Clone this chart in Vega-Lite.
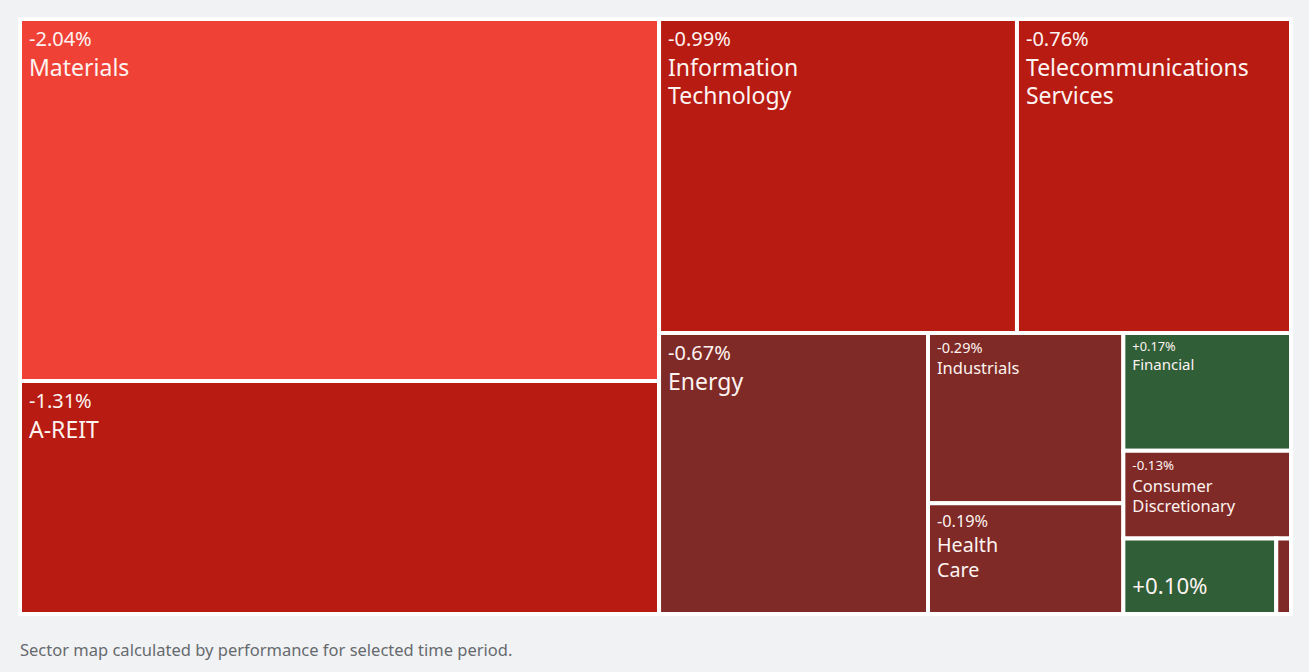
{
  "$schema": "https://vega.github.io/schema/vega-lite/v6.json",
  "width": 1271,
  "height": 595,
  "autosize": {"type": "none"},
  "padding": {"left": 20, "top": 19, "right": 18, "bottom": 58},
  "background": "#f1f2f4",
  "title": {
    "text": "Sector map calculated by performance for selected time period.",
    "orient": "bottom",
    "anchor": "start",
    "offset": 27,
    "dx": 2,
    "font": "Noto Sans",
    "fontSize": 16.5,
    "fontWeight": "normal",
    "color": "#666a6e"
  },
  "config": {
    "view": {"fill": "white", "stroke": null},
    "locale": {"number": {"decimal": ".", "thousands": ",", "grouping": [3], "currency": ["$", ""], "minus": "-"}}
  },
  "data": {
    "values": [
      {"sector": "Materials", "name": "Materials", "change": -0.0204, "x0": 0, "x1": 0.5028, "y0": 0, "y1": 0.6084},
      {"sector": "A-REIT", "name": "A-REIT", "change": -0.0131, "x0": 0, "x1": 0.5028, "y0": 0.6084, "y1": 1},
      {"sector": "Information Technology", "name": "Information\nTechnology", "change": -0.0099, "x0": 0.5028, "x1": 0.7844, "y0": 0, "y1": 0.5277},
      {"sector": "Telecommunications Services", "name": "Telecommunications\nServices", "change": -0.0076, "x0": 0.7844, "x1": 1, "y0": 0, "y1": 0.5277},
      {"sector": "Energy", "name": "Energy", "change": -0.0067, "x0": 0.5028, "x1": 0.7144, "y0": 0.5277, "y1": 1},
      {"sector": "Industrials", "name": "Industrials", "change": -0.0029, "x0": 0.7144, "x1": 0.8681, "y0": 0.5277, "y1": 0.8138},
      {"sector": "Health Care", "name": "Health\nCare", "change": -0.0019, "x0": 0.7144, "x1": 0.8681, "y0": 0.8138, "y1": 1},
      {"sector": "Financial", "name": "Financial", "change": 0.0017, "x0": 0.8681, "x1": 1, "y0": 0.5277, "y1": 0.7257},
      {"sector": "Consumer Discretionary", "name": "Consumer\nDiscretionary", "change": -0.0013, "x0": 0.8681, "x1": 1, "y0": 0.7257, "y1": 0.8731},
      {"sector": "Consumer Staples", "name": "Consumer Staples", "change": 0.0010, "x0": 0.8681, "x1": 0.9884, "y0": 0.8731, "y1": 1},
      {"sector": "Utilities", "name": "Utilities", "change": -0.0005, "x0": 0.9884, "x1": 1, "y0": 0.8731, "y1": 1}
    ]
  },
  "encoding": {
    "x": {"field": "x0", "type": "quantitative", "scale": {"domain": [0, 1], "nice": false, "zero": false}, "axis": null},
    "y": {"field": "y0", "type": "quantitative", "scale": {"domain": [0, 1], "nice": false, "zero": false, "reverse": true}, "axis": null}
  },
  "layer": [
    {
      "mark": {"type": "rect", "stroke": "white", "strokeWidth": 4},
      "encoding": {
        "x2": {"field": "x1"},
        "y2": {"field": "y1"},
        "color": {
          "field": "change",
          "type": "quantitative",
          "scale": {"type": "threshold", "domain": [-0.015, -0.007, 0], "range": ["#ef4136", "#b71b12", "#7f2a26", "#2f5e37"]},
          "legend": null
        }
      }
    },
    {
      "transform": [{"filter": {"field": "sector", "oneOf": ["Materials", "A-REIT", "Information Technology", "Telecommunications Services", "Energy"]}}],
      "layer": [
        {"mark": {"type": "text", "align": "left", "baseline": "alphabetic", "dx": 9, "dy": 27, "font": "Noto Sans", "fontSize": 20, "color": "#fdf3f1"},
         "encoding": {"text": {"field": "change", "type": "quantitative", "format": "+.2%"}}},
        {"mark": {"type": "text", "align": "left", "baseline": "alphabetic", "dx": 9, "dy": 57, "font": "Noto Sans", "fontSize": 23, "lineHeight": 28, "lineBreak": "\n", "color": "#fdf3f1"},
         "encoding": {"text": {"field": "name", "type": "nominal"}}}
      ]
    },
    {
      "transform": [{"filter": {"field": "sector", "equal": "Health Care"}}],
      "layer": [
        {"mark": {"type": "text", "align": "left", "baseline": "alphabetic", "dx": 9, "dy": 23.5, "font": "Noto Sans", "fontSize": 16.3, "color": "#fdf3f1"},
         "encoding": {"text": {"field": "change", "type": "quantitative", "format": "+.2%"}}},
        {"mark": {"type": "text", "align": "left", "baseline": "alphabetic", "dx": 9, "dy": 48.5, "font": "Noto Sans", "fontSize": 19.7, "lineHeight": 25, "lineBreak": "\n", "color": "#fdf3f1"},
         "encoding": {"text": {"field": "name", "type": "nominal"}}}
      ]
    },
    {
      "transform": [{"filter": {"field": "sector", "equal": "Industrials"}}],
      "layer": [
        {"mark": {"type": "text", "align": "left", "baseline": "alphabetic", "dx": 9, "dy": 20, "font": "Noto Sans", "fontSize": 14.5, "color": "#fdf3f1"},
         "encoding": {"text": {"field": "change", "type": "quantitative", "format": "+.2%"}}},
        {"mark": {"type": "text", "align": "left", "baseline": "alphabetic", "dx": 9, "dy": 41, "font": "Noto Sans", "fontSize": 16.5, "lineHeight": 20.5, "lineBreak": "\n", "color": "#fdf3f1"},
         "encoding": {"text": {"field": "name", "type": "nominal"}}}
      ]
    },
    {
      "transform": [{"filter": {"field": "sector", "equal": "Consumer Discretionary"}}],
      "layer": [
        {"mark": {"type": "text", "align": "left", "baseline": "alphabetic", "dx": 9, "dy": 19.5, "font": "Noto Sans", "fontSize": 13.3, "color": "#fdf3f1"},
         "encoding": {"text": {"field": "change", "type": "quantitative", "format": "+.2%"}}},
        {"mark": {"type": "text", "align": "left", "baseline": "alphabetic", "dx": 9, "dy": 41, "font": "Noto Sans", "fontSize": 16.5, "lineHeight": 20.5, "lineBreak": "\n", "color": "#fdf3f1"},
         "encoding": {"text": {"field": "name", "type": "nominal"}}}
      ]
    },
    {
      "transform": [{"filter": {"field": "sector", "equal": "Financial"}}],
      "layer": [
        {"mark": {"type": "text", "align": "left", "baseline": "alphabetic", "dx": 9, "dy": 18.5, "font": "Noto Sans", "fontSize": 12.8, "color": "#fdf3f1"},
         "encoding": {"text": {"field": "change", "type": "quantitative", "format": "+.2%"}}},
        {"mark": {"type": "text", "align": "left", "baseline": "alphabetic", "dx": 9, "dy": 37.5, "font": "Noto Sans", "fontSize": 15, "color": "#fdf3f1"},
         "encoding": {"text": {"field": "name", "type": "nominal"}}}
      ]
    },
    {
      "transform": [{"filter": {"field": "sector", "equal": "Consumer Staples"}}],
      "mark": {"type": "text", "align": "left", "baseline": "alphabetic", "dx": 9, "dy": 56, "font": "Noto Sans", "fontSize": 22.2, "color": "#fdf3f1"},
      "encoding": {"text": {"field": "change", "type": "quantitative", "format": "+.2%"}}
    }
  ]
}
